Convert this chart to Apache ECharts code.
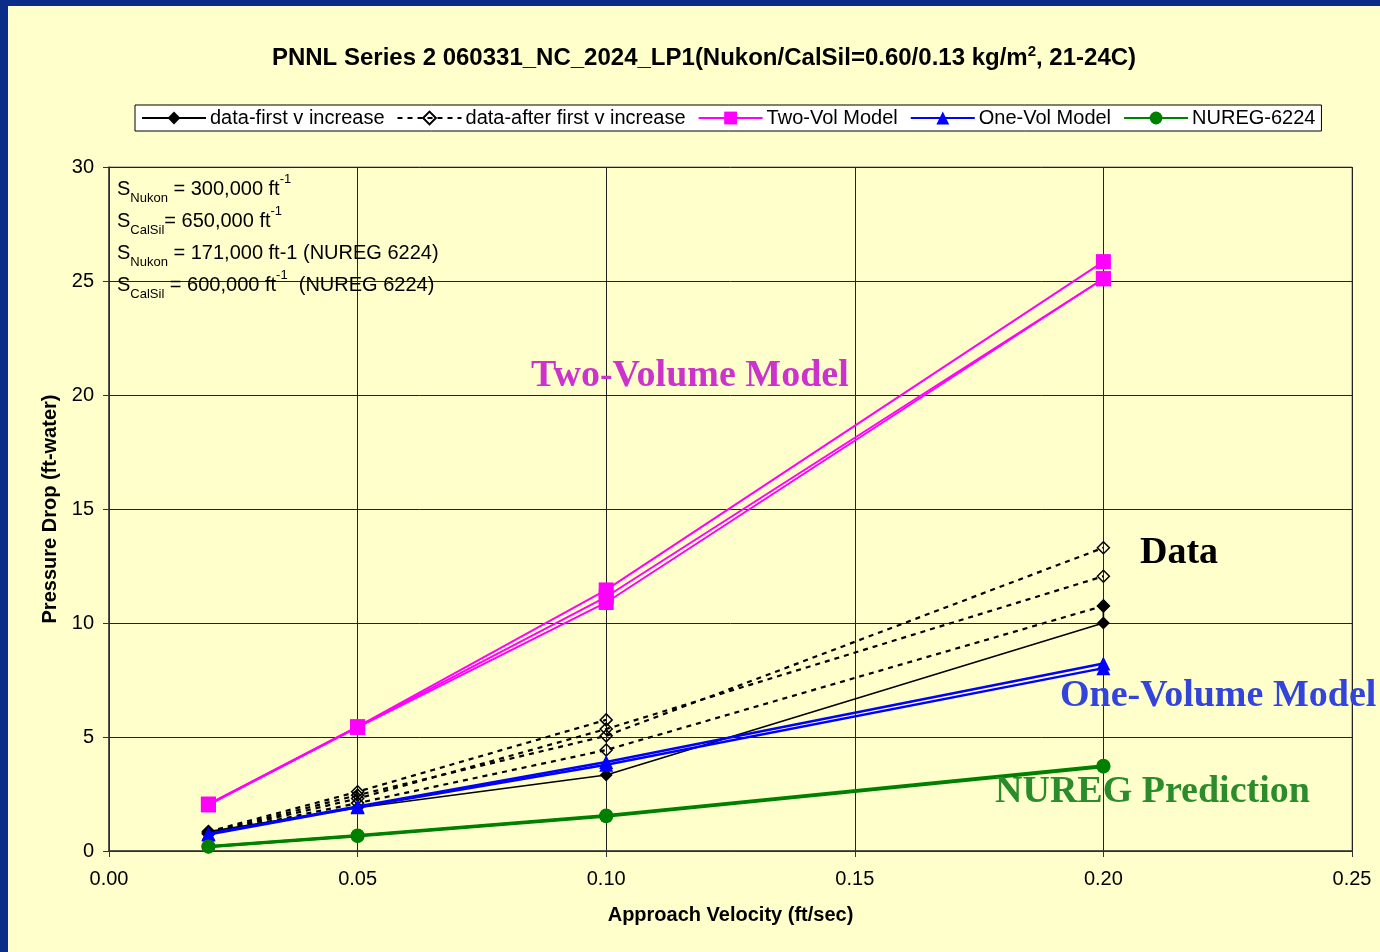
<!DOCTYPE html>
<html><head><meta charset="utf-8">
<script src="https://cdn.jsdelivr.net/npm/echarts@6/dist/echarts.min.js"></script>
<style>html,body{margin:0;padding:0;background:#ffffcc;}#c{width:1380px;height:952px;}</style>
</head><body><div id="c"></div>
<script>
// ---- data ----
const velocity = [0.02, 0.05, 0.10, 0.20];
const firstVelocity = [0.02, 0.05, 0.10, 0.20, 0.20];
const dataFirst = [0.85, 1.90, 3.33, 10.00, 10.75];
const dataAfter1 = [0.80, 2.45, 5.05, 13.30];
const dataAfter2 = [0.78, 2.30, 5.35, 12.05];
const dataAfter3 = [0.75, 2.10, 4.43, 10.75];
const dataAfter4 = [0.85, 2.60, 5.75, null];
const twoVol1 = [2.06, 5.45, 11.45, 25.85];
const twoVol2 = [2.04, 5.44, 11.15, 25.10];
const twoVol3 = [2.02, 5.42, 10.90, 25.10];
const oneVol1 = [0.76, 1.95, 3.90, 8.22];
const oneVol2 = [0.72, 1.92, 3.78, 8.02];
const nureg1 = [0.20, 0.68, 1.56, 3.74];
const nureg2 = [0.19, 0.66, 1.52, 3.70];
const legendNames = ['data-first v increase', 'data-after first v increase', 'Two-Vol Model', 'One-Vol Model', 'NUREG-6224'];

const SANS = '"Liberation Sans", Arial, sans-serif';
const SERIF = '"Liberation Serif", "Times New Roman", serif';

function pairs(xs, ys) { return xs.map((x, i) => [x, ys[i]]); }

function dashedSeries(ys) {
  return {
    name: legendNames[1], type: 'line', data: pairs(velocity, ys), z: 3,
    symbol: 'diamond', symbolSize: 12, connectNulls: false,
    lineStyle: { color: '#000', width: 2.2, type: [5, 5] },
    itemStyle: { color: 'rgba(255,255,204,0)', borderColor: '#000', borderWidth: 1.5 }
  };
}
function modelSeries(name, ys, color, symbol, size, width, z) {
  return {
    name, type: 'line', data: pairs(velocity, ys), z,
    symbol, symbolSize: size,
    lineStyle: { color, width },
    itemStyle: { color, borderWidth: 0 }
  };
}

const chart = echarts.init(document.getElementById('c'), null, { renderer: 'canvas' });
chart.setOption({
  backgroundColor: '#ffffcc',
  animation: false,
  grid: { left: 109, right: 28, top: 167, bottom: 101, show: true, borderColor: '#808080', borderWidth: 1, backgroundColor: 'transparent', containLabel: false, outerBoundsMode: 'none' },
  legend: {
    data: legendNames.map(n => ({ name: n })),
    left: 135, top: 105, orient: 'horizontal',
    itemWidth: 64, itemHeight: 16, itemGap: 12,
    padding: [3, 6, 3, 6],
    backgroundColor: '#ffffff', borderColor: '#000', borderWidth: 1, borderRadius: 0,
    textStyle: { fontFamily: SANS, fontSize: 20, color: '#000', padding: [0, 0, 0, -1] },
    selectedMode: false
  },
  xAxis: {
    type: 'value', min: 0, max: 0.25, interval: 0.05,
    name: 'Approach Velocity (ft/sec)', nameLocation: 'middle', nameGap: 54,
    nameTextStyle: { fontFamily: SANS, fontSize: 20, fontWeight: 'bold', color: '#000' },
    axisLine: { show: true, lineStyle: { color: '#333', width: 1.5 } },
    axisTick: { show: true, inside: false, length: 6, lineStyle: { color: '#333' } },
    axisLabel: { margin: 18, fontFamily: SANS, fontSize: 20, color: '#000', formatter: v => v.toFixed(2) },
    splitLine: { show: true, lineStyle: { color: '#222', width: 1 } }
  },
  yAxis: {
    type: 'value', min: 0, max: 30, interval: 5,
    name: 'Pressure Drop (ft-water)', nameLocation: 'middle', nameGap: 48, nameRotate: 90,
    nameTextStyle: { fontFamily: SANS, fontSize: 20, fontWeight: 'bold', color: '#000' },
    axisLine: { show: true, lineStyle: { color: '#333', width: 1.5 } },
    axisTick: { show: true, inside: false, length: 6, lineStyle: { color: '#333' } },
    axisLabel: { margin: 15, fontFamily: SANS, fontSize: 20, color: '#000' },
    splitLine: { show: true, lineStyle: { color: '#222', width: 1 } }
  },
  series: [
    dashedSeries(dataAfter4),
    dashedSeries(dataAfter1),
    dashedSeries(dataAfter2),
    dashedSeries(dataAfter3),
    {
      name: legendNames[0], type: 'line', data: pairs(firstVelocity, dataFirst), z: 4,
      symbol: 'diamond', symbolSize: 13,
      lineStyle: { color: '#000', width: 1.6 },
      itemStyle: { color: '#000', borderWidth: 0 }
    },
    modelSeries(legendNames[3], oneVol1, '#0000ff', 'triangle', 14, 2.5, 5),
    modelSeries(legendNames[3], oneVol2, '#0000ff', 'triangle', 14, 2.5, 5),
    modelSeries(legendNames[2], twoVol1, '#ff00ff', 'rect', 15, 2, 6),
    modelSeries(legendNames[2], twoVol2, '#ff00ff', 'rect', 15, 2, 6),
    modelSeries(legendNames[2], twoVol3, '#ff00ff', 'rect', 15, 2, 6),
    modelSeries(legendNames[4], nureg1, '#008000', 'circle', 14, 3, 5),
    modelSeries(legendNames[4], nureg2, '#008000', 'circle', 14, 3, 5)
  ],
  graphic: [
    { type: 'rect', z: 100, shape: { x: 0, y: 0, width: 1380, height: 6 }, style: { fill: '#0b2d8a' } },
    { type: 'rect', z: 100, shape: { x: 0, y: 0, width: 8, height: 952 }, style: { fill: '#0b2d8a' } },
    {
      type: 'text', x: 704, y: 58, z: 50,
      style: {
        text: '{b|PNNL Series 2 060331_NC_2024_LP1(Nukon/CalSil=0.60/0.13 kg/m}{s|2}{b|, 21-24C)}',
        align: 'center', verticalAlign: 'middle',
        rich: {
          b: { fontFamily: SANS, fontSize: 24, fontWeight: 'bold', fill: '#000', lineHeight: 28 },
          s: { fontFamily: SANS, fontSize: 15, fontWeight: 'bold', fill: '#000', lineHeight: 14, verticalAlign: 'top' }
        }
      }
    },
    {
      type: 'text', x: 117, y: 173, z: 50,
      style: {
        text: '{n|S}{sub|Nukon}{n| = 300,000 ft}{sup|-1}\n' +
              '{n|S}{sub|CalSil}{n|= 650,000 ft}{sup|-1}\n' +
              '{n|S}{sub|Nukon}{n| = 171,000 ft-1 (NUREG 6224)}\n' +
              '{n|S}{sub|CalSil}{n| = 600,000 ft}{sup|-1}{n|  (NUREG 6224)}',
        align: 'left', verticalAlign: 'top',
        rich: {
          n: { fontFamily: SANS, fontSize: 20, fill: '#000', lineHeight: 32 },
          sub: { fontFamily: SANS, fontSize: 13, fill: '#000', lineHeight: 16, verticalAlign: 'bottom' },
          sup: { fontFamily: SANS, fontSize: 13, fill: '#000', lineHeight: 14, verticalAlign: 'top' }
        }
      }
    },
    { type: 'text', x: 531, y: 376, z: 50, style: { text: 'Two-Volume Model', font: 'bold 38px ' + SERIF, fill: '#cc33cc', align: 'left', verticalAlign: 'middle' } },
    { type: 'text', x: 1140, y: 553, z: 50, style: { text: 'Data', font: 'bold 38px ' + SERIF, fill: '#000', align: 'left', verticalAlign: 'middle' } },
    { type: 'text', x: 1060, y: 696, z: 50, style: { text: 'One-Volume Model', font: 'bold 38px ' + SERIF, fill: '#3344dd', align: 'left', verticalAlign: 'middle' } },
    { type: 'text', x: 995, y: 792, z: 50, style: { text: 'NUREG Prediction', font: 'bold 38px ' + SERIF, fill: '#2a8c2a', align: 'left', verticalAlign: 'middle' } }
  ]
});
</script>
</body></html>
